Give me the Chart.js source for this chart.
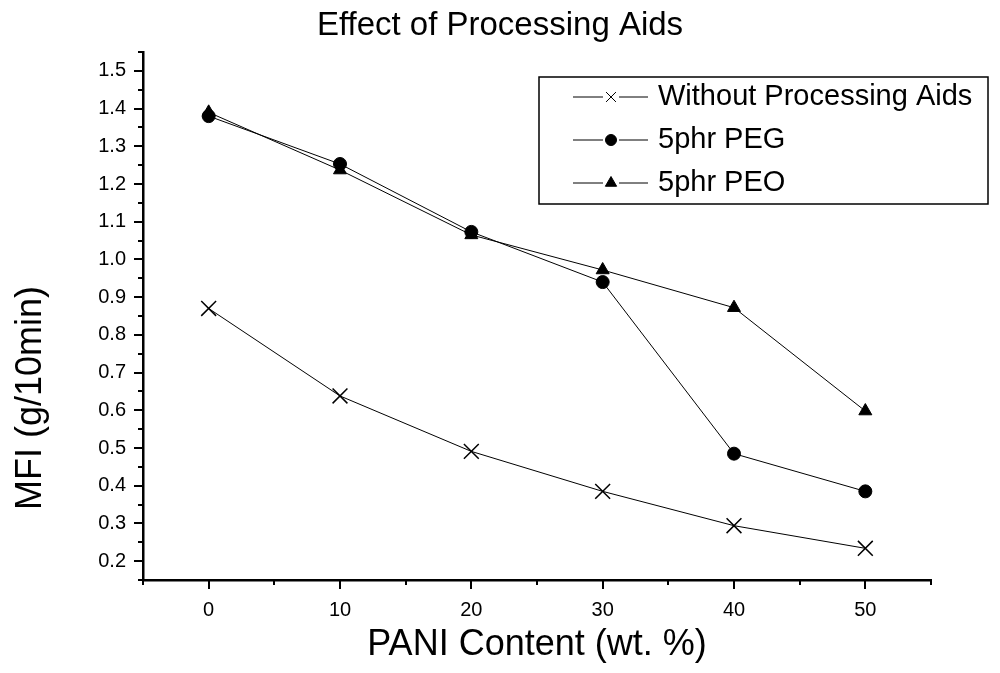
<!DOCTYPE html>
<html>
<head>
<meta charset="utf-8">
<script src="https://cdn.jsdelivr.net/npm/chart.js@4.4.1/dist/chart.umd.min.js"></script>
<style>
  html, body { margin: 0; padding: 0; background: #fff; }
</style>
</head>
<body>
<canvas id="mfiChart" width="1000" height="673"></canvas>
<script>
// data
var paniContent = [0, 10, 20, 30, 40, 50];
var withoutAids = [0.870, 0.638, 0.491, 0.385, 0.294, 0.234];
var peg5phr = [1.380, 1.253, 1.073, 0.940, 0.485, 0.385];
var peo5phr = [1.390, 1.237, 1.065, 0.972, 0.872, 0.598];
var seriesNames = ['Without Processing Aids', '5phr PEG', '5phr PEO'];
var xTickLabels = ['0', '10', '20', '30', '40', '50'];
var yTickLabels = ['0.2', '0.3', '0.4', '0.5', '0.6', '0.7', '0.8', '0.9', '1.0',
                   '1.1', '1.2', '1.3', '1.4', '1.5'];
var chartTitle = 'Effect of Processing Aids';
var yTitle = 'MFI (g/10min)';
var xTitle = 'PANI Content (wt. %)';

var fontFamily = "'Liberation Sans', Arial, sans-serif";
Chart.defaults.font.family = fontFamily;
Chart.defaults.color = '#000';

function toPoints(values) {
    return paniContent.map(function (x, i) { return { x: x, y: values[i] }; });
}

// outward tick marks, long at labelled values, short in between
var tickMarks = {
    id: 'tickMarks',
    afterDraw: function (chart) {
        var ctx = chart.ctx;
        var xs = chart.scales.x, ys = chart.scales.y;
        ctx.save();
        ctx.strokeStyle = '#000';
        ctx.lineWidth = 2;
        ctx.beginPath();
        xs.ticks.forEach(function (t) {
            var px = Math.round(xs.getPixelForValue(t.value));
            var len = t.label ? 9 : 5;
            ctx.moveTo(px, ys.bottom);
            ctx.lineTo(px, ys.bottom + len);
        });
        ys.ticks.forEach(function (t) {
            var py = Math.round(ys.getPixelForValue(t.value));
            var len = t.label ? 9 : 5;
            ctx.moveTo(xs.left, py);
            ctx.lineTo(xs.left - len, py);
        });
        ctx.stroke();
        ctx.restore();
    }
};

// page title and the rotated y title, placed like the original figure
var titles = {
    id: 'titles',
    afterDraw: function (chart) {
        var ctx = chart.ctx;
        ctx.save();
        ctx.fillStyle = '#000';
        ctx.textAlign = 'center';
        ctx.textBaseline = 'middle';
        ctx.font = '33px ' + fontFamily;
        ctx.fillText(chartTitle, 500, 26);
        ctx.translate(31, 398);
        ctx.rotate(-Math.PI / 2);
        ctx.font = '36px ' + fontFamily;
        ctx.fillText(yTitle, 0, 0);
        ctx.restore();
    }
};

// boxed legend in the top right corner
var boxLegend = {
    id: 'boxLegend',
    afterDraw: function (chart) {
        var ctx = chart.ctx;
        var left = 539, top = 77, right = 988, bottom = 204;
        var rows = [97, 140, 183];
        ctx.save();
        ctx.fillStyle = '#fff';
        ctx.fillRect(left, top, right - left, bottom - top);
        ctx.strokeStyle = '#000';
        ctx.lineWidth = 1.5;
        ctx.strokeRect(left, top, right - left, bottom - top);
        chart.data.datasets.forEach(function (ds, i) {
            var y = rows[i];
            ctx.strokeStyle = '#000';
            ctx.lineWidth = 1;
            ctx.beginPath();
            ctx.moveTo(573, y);
            ctx.lineTo(648, y);
            ctx.stroke();
            ctx.fillStyle = '#fff';
            ctx.fillRect(603, y - 8, 16, 16);
            ctx.fillStyle = '#000';
            ctx.strokeStyle = '#000';
            Chart.helpers.drawPoint(ctx, {
                pointStyle: ds.pointStyle,
                radius: ds.pointStyle === 'crossRot' ? 7 : ds.pointRadius - 1,
                borderWidth: ds.pointBorderWidth,
                rotation: 0
            }, 611, y);
            ctx.font = '29px ' + fontFamily;
            ctx.textBaseline = 'middle';
            ctx.textAlign = 'left';
            ctx.fillStyle = '#000';
            ctx.fillText(ds.label, 658, y);
        });
        ctx.restore();
    }
};

var ctx = document.getElementById('mfiChart').getContext('2d');
var mfiChart = new Chart(ctx, {
    type: 'line',
    data: {
        datasets: [{
            label: seriesNames[0],
            data: toPoints(withoutAids),
            borderColor: '#000',
            borderWidth: 1,
            pointStyle: 'crossRot',
            pointRadius: 10.5,
            pointBorderWidth: 1.5,
            pointBorderColor: '#000',
            pointBackgroundColor: '#000'
        }, {
            label: seriesNames[1],
            data: toPoints(peg5phr),
            borderColor: '#000',
            borderWidth: 1,
            pointStyle: 'circle',
            pointRadius: 6.5,
            pointBorderWidth: 1,
            pointBorderColor: '#000',
            pointBackgroundColor: '#000'
        }, {
            label: seriesNames[2],
            data: toPoints(peo5phr),
            borderColor: '#000',
            borderWidth: 1,
            pointStyle: 'triangle',
            pointRadius: 7.5,
            pointBorderWidth: 1,
            pointBorderColor: '#000',
            pointBackgroundColor: '#000'
        }]
    },
    options: {
        responsive: false,
        animation: false,
        devicePixelRatio: 1,
        layout: { padding: { left: 0, right: 69, top: 52, bottom: 0 } },
        elements: { line: { tension: 0 } },
        scales: {
            x: {
                type: 'linear',
                min: -5,
                max: 55,
                grid: { display: false, drawTicks: false },
                border: { display: true, color: '#000', width: 2.5 },
                ticks: {
                    stepSize: 5,
                    autoSkip: false,
                    maxRotation: 0,
                    padding: 18,
                    font: { size: 20 },
                    callback: function (value) {
                        var s = String(value);
                        return xTickLabels.indexOf(s) >= 0 ? s : '';
                    }
                },
                title: {
                    display: true,
                    text: xTitle,
                    font: { size: 36 },
                    padding: { top: 0, bottom: 6 }
                },
                afterFit: function (scale) { scale.height = 93; }
            },
            y: {
                type: 'linear',
                min: 0.15,
                max: 1.55,
                grid: { display: false, drawTicks: false },
                border: { display: true, color: '#000', width: 2.5 },
                ticks: {
                    stepSize: 0.05,
                    autoSkip: false,
                    padding: 17,
                    font: { size: 20 },
                    callback: function (value) {
                        var s = value.toFixed(1);
                        if (Math.abs(value - parseFloat(s)) > 0.001) return '';
                        return yTickLabels.indexOf(s) >= 0 ? s : '';
                    }
                },
                afterFit: function (scale) { scale.width = 143; }
            }
        },
        plugins: {
            legend: { display: false },
            tooltip: { enabled: false },
            title: { display: false }
        }
    },
    plugins: [tickMarks, titles, boxLegend]
});
</script>
</body>
</html>
